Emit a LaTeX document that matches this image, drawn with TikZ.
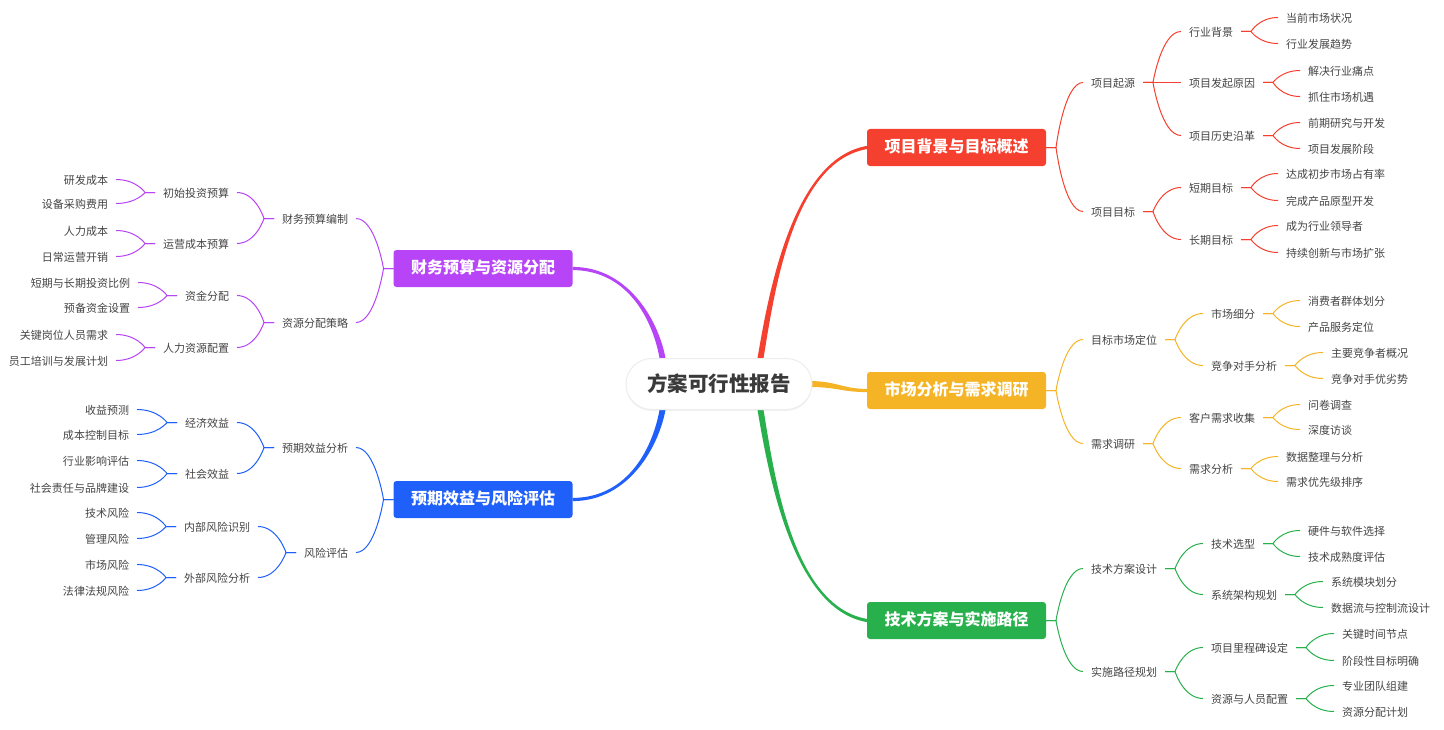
\documentclass[tikz,border=0pt]{standalone}
\usepackage{fontspec}
\newfontfamily\cjk{Noto Sans CJK SC}
\usetikzlibrary{calc,backgrounds,shadows}
\definecolor{cR}{RGB}{245,64,47}
\definecolor{cY}{RGB}{245,180,38}
\definecolor{cG}{RGB}{40,176,76}
\definecolor{cP}{RGB}{183,69,247}
\definecolor{cB}{RGB}{31,96,250}
\definecolor{txt}{RGB}{68,68,68}
\definecolor{roottxt}{RGB}{58,58,58}
\tikzset{
  lbl/.style={font=\cjk\fontsize{11bp}{13bp}\selectfont, text=txt, inner xsep=8bp, inner ysep=0pt,
    text height=1.06em, text depth=0.06em, outer sep=0pt},
  rl/.style={lbl, anchor=west},
  lft/.style={lbl, anchor=east},
  mainbox/.style={fill=#1, rounded corners=3bp, minimum width=179bp, minimum height=37bp, text=white,
    font=\cjk\bfseries\fontsize{16bp}{18bp}\selectfont, inner sep=0pt, outer sep=0pt,
    text height=1.1em, text depth=0.05em},
  conn/.style={to path={let \p1=(\tikztostart), \p2=(\tikztotarget) in
    .. controls (\p1) and ({\x1+0.3*(\x2-\x1)},\y2) .. (\p2)}},
  thin edge/.style={line width=1bp, #1},
}
\begin{document}
\begin{tikzpicture}[x=1bp, y=-1bp]
\useasboundingbox (0,-0.5) rectangle (1444,728.5);

% root
\node[rectangle, rounded corners=25.5bp, minimum width=186bp, minimum height=51bp, fill=white,
  draw=black!7, line width=1bp, drop shadow={shadow xshift=0bp, shadow yshift=-1.5bp, opacity=0.10},
  text=roottxt, font=\cjk\bfseries\fontsize{20.5bp}{23bp}\selectfont, inner sep=0pt] (root) at (719,383.5) {方案可行性报告};

% main boxes
\node[mainbox=cR] (R) at (956.5,147) {项目背景与目标概述};
\node[mainbox=cY] (Y) at (956.5,390) {市场分析与需求调研};
\node[mainbox=cG] (G) at (956.5,620) {技术方案与实施路径};
\node[mainbox=cP] (P) at (483,268) {财务预算与资源分配};
\node[mainbox=cB] (B) at (483,499) {预期效益与风险评估};

% red branch
\node[rl] (R1) at (1083,82) {项目起源};
\node[rl] (R2) at (1083,211) {项目目标};
\node[rl] (R11) at (1181,31) {行业背景};
\node[rl] (R12) at (1181,82) {项目发起原因};
\node[rl] (R13) at (1181,135) {项目历史沿革};
\node[rl] (R21) at (1181,187) {短期目标};
\node[rl] (R22) at (1181,239) {长期目标};
\node[rl] (R111) at (1278,17) {当前市场状况};
\node[rl] (R112) at (1278,43) {行业发展趋势};
\node[rl] (R121) at (1300,70) {解决行业痛点};
\node[rl] (R122) at (1300,96) {抓住市场机遇};
\node[rl] (R131) at (1300,122) {前期研究与开发};
\node[rl] (R132) at (1300,148) {项目发展阶段};
\node[rl] (R211) at (1278,173) {达成初步市场占有率};
\node[rl] (R212) at (1278,200) {完成产品原型开发};
\node[rl] (R221) at (1278,225) {成为行业领导者};
\node[rl] (R222) at (1278,252) {持续创新与市场扩张};

% yellow branch
\node[rl] (Y1) at (1083,339) {目标市场定位};
\node[rl] (Y2) at (1083,443) {需求调研};
\node[rl] (Y11) at (1203,313) {市场细分};
\node[rl] (Y12) at (1203,365) {竞争对手分析};
\node[rl] (Y21) at (1181,417) {客户需求收集};
\node[rl] (Y22) at (1181,468) {需求分析};
\node[rl] (Y111) at (1300,300) {消费者群体划分};
\node[rl] (Y112) at (1300,326) {产品服务定位};
\node[rl] (Y121) at (1323,352) {主要竞争者概况};
\node[rl] (Y122) at (1323,378) {竞争对手优劣势};
\node[rl] (Y211) at (1300,404) {问卷调查};
\node[rl] (Y212) at (1300,429) {深度访谈};
\node[rl] (Y221) at (1278,456) {数据整理与分析};
\node[rl] (Y222) at (1278,481) {需求优先级排序};

% green branch
\node[rl] (G1) at (1083,568) {技术方案设计};
\node[rl] (G2) at (1083,671) {实施路径规划};
\node[rl] (G11) at (1203,543) {技术选型};
\node[rl] (G12) at (1203,594) {系统架构规划};
\node[rl] (G21) at (1203,647) {项目里程碑设定};
\node[rl] (G22) at (1203,698) {资源与人员配置};
\node[rl] (G111) at (1300,530) {硬件与软件选择};
\node[rl] (G112) at (1300,556) {技术成熟度评估};
\node[rl] (G121) at (1323,581) {系统模块划分};
\node[rl] (G122) at (1323,607) {数据流与控制流设计};
\node[rl] (G211) at (1334,633) {关键时间节点};
\node[rl] (G212) at (1334,660) {阶段性目标明确};
\node[rl] (G221) at (1334,685) {专业团队组建};
\node[rl] (G222) at (1334,711) {资源分配计划};

% purple branch
\node[lft] (P1) at (356,218) {财务预算编制};
\node[lft] (P2) at (356,322) {资源分配策略};
\node[lft] (P11) at (237,192) {初始投资预算};
\node[lft] (P12) at (237,243) {运营成本预算};
\node[lft] (P21) at (237,295) {资金分配};
\node[lft] (P22) at (237,347) {人力资源配置};
\node[lft] (P111) at (116,179) {研发成本};
\node[lft] (P112) at (116,203) {设备采购费用};
\node[lft] (P121) at (116,230) {人力成本};
\node[lft] (P122) at (116,256) {日常运营开销};
\node[lft] (P211) at (138,282) {短期与长期投资比例};
\node[lft] (P212) at (138,307) {预备资金设置};
\node[lft] (P221) at (116,334) {关键岗位人员需求};
\node[lft] (P222) at (116,360) {员工培训与发展计划};

% blue branch
\node[lft] (B1) at (356,447) {预期效益分析};
\node[lft] (B2) at (356,552) {风险评估};
\node[lft] (B11) at (237,422) {经济效益};
\node[lft] (B12) at (237,473) {社会效益};
\node[lft] (B21) at (258,526) {内部风险识别};
\node[lft] (B22) at (258,577) {外部风险分析};
\node[lft] (B111) at (137,409) {收益预测};
\node[lft] (B112) at (137,434) {成本控制目标};
\node[lft] (B121) at (137,460) {行业影响评估};
\node[lft] (B122) at (137,487) {社会责任与品牌建设};
\node[lft] (B211) at (137,512) {技术风险};
\node[lft] (B212) at (137,538) {管理风险};
\node[lft] (B221) at (137,564) {市场风险};
\node[lft] (B222) at (137,590) {法律法规风险};

\begin{pgfonlayer}{background}
% main connectors (tapered: thick at the root, thin at the box)
\coordinate (rs) at ([xshift=41bp]root.north);
\coordinate (gs) at ([xshift=41bp]root.south);
\coordinate (ps) at ([xshift=-56bp]root.north);
\coordinate (bs) at ([xshift=-56bp]root.south);
\fill[cR] ([xshift=-3bp,yshift=-3bp]rs) .. controls +(10,-58) and +(-77,13) .. ([yshift=1.6bp]R.west)
  -- ([yshift=-1.6bp]R.west) .. controls +(-77,13) and +(10,-58) .. ([xshift=3bp,yshift=-3bp]rs) -- cycle;
\fill[cG] ([xshift=-3bp,yshift=3bp]gs) .. controls +(10,58) and +(-77,-13) .. ([yshift=-1.6bp]G.west)
  -- ([yshift=1.6bp]G.west) .. controls +(-77,-13) and +(10,58) .. ([xshift=3bp,yshift=3bp]gs) -- cycle;
\fill[cY] ([xshift=-4bp,yshift=3bp]root.east) .. controls +(29,0) and +(-25,0) .. ([yshift=1.6bp]Y.west)
  -- ([yshift=-1.6bp]Y.west) .. controls +(-25,0) and +(29,0) .. ([xshift=-4bp,yshift=-3bp]root.east) -- cycle;
\fill[cP] ([xshift=3bp,yshift=-3bp]ps) .. controls +(-6,-38) and +(57,0) .. ([yshift=1.6bp]P.east)
  -- ([yshift=-1.6bp]P.east) .. controls +(57,0) and +(-6,-38) .. ([xshift=-3bp,yshift=-3bp]ps) -- cycle;
\fill[cB] ([xshift=3bp,yshift=3bp]bs) .. controls +(-6,38) and +(57,0) .. ([yshift=-1.6bp]B.east)
  -- ([yshift=1.6bp]B.east) .. controls +(57,0) and +(-6,38) .. ([xshift=-3bp,yshift=3bp]bs) -- cycle;

% right side connectors
\foreach \a/\b in {R/R1,R/R2,R1/R11,R1/R12,R1/R13,R2/R21,R2/R22,
  R11/R111,R11/R112,R12/R121,R12/R122,R13/R131,R13/R132,R21/R211,R21/R212,R22/R221,R22/R222}
  \draw[thin edge=cR] (\a.east) -- ++(10,0) to[conn] (\b.west);
\foreach \a/\b in {Y/Y1,Y/Y2,Y1/Y11,Y1/Y12,Y2/Y21,Y2/Y22,
  Y11/Y111,Y11/Y112,Y12/Y121,Y12/Y122,Y21/Y211,Y21/Y212,Y22/Y221,Y22/Y222}
  \draw[thin edge=cY] (\a.east) -- ++(10,0) to[conn] (\b.west);
\foreach \a/\b in {G/G1,G/G2,G1/G11,G1/G12,G2/G21,G2/G22,
  G11/G111,G11/G112,G12/G121,G12/G122,G21/G211,G21/G212,G22/G221,G22/G222}
  \draw[thin edge=cG] (\a.east) -- ++(10,0) to[conn] (\b.west);

% left side connectors
\foreach \a/\b in {P/P1,P/P2,P1/P11,P1/P12,P2/P21,P2/P22,
  P11/P111,P11/P112,P12/P121,P12/P122,P21/P211,P21/P212,P22/P221,P22/P222}
  \draw[thin edge=cP] (\a.west) -- ++(-10,0) to[conn] (\b.east);
\foreach \a/\b in {B/B1,B/B2,B1/B11,B1/B12,B2/B21,B2/B22,
  B11/B111,B11/B112,B12/B121,B12/B122,B21/B211,B21/B212,B22/B221,B22/B222}
  \draw[thin edge=cB] (\a.west) -- ++(-10,0) to[conn] (\b.east);
\end{pgfonlayer}
\end{tikzpicture}
\end{document}
